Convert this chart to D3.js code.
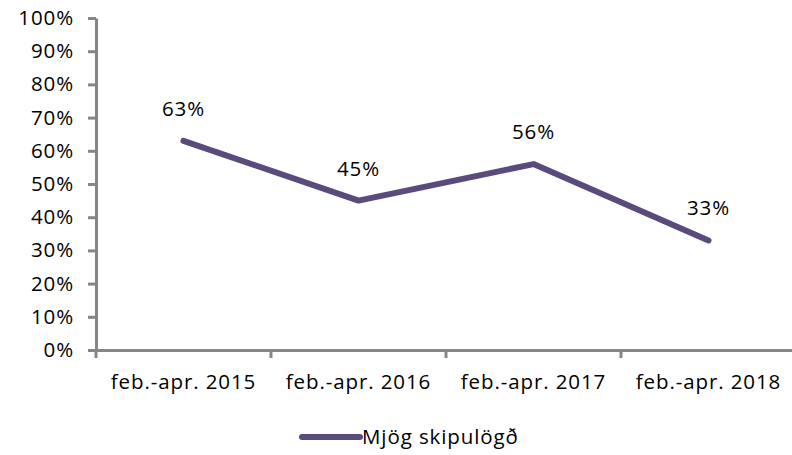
<!DOCTYPE html>
<html>
<head>
<meta charset="utf-8">
<script src="https://cdn.jsdelivr.net/npm/d3@7"></script>
<style>
  body { margin: 0; background: #fff; }
  svg { display: block; font-family: "Open Sans", sans-serif; }
  text { letter-spacing: 0.9px; }
</style>
</head>
<body>
<div id="chart"></div>
<script>
const periods = ["feb.-apr. 2015", "feb.-apr. 2016", "feb.-apr. 2017", "feb.-apr. 2018"];
const values = [0.63, 0.45, 0.56, 0.33];
const seriesName = "Mjög skipulögð";
const yTicks = [0, 0.1, 0.2, 0.3, 0.4, 0.5, 0.6, 0.7, 0.8, 0.9, 1];

const width = 792, height = 455;
const margin = {top: 18, right: -4, bottom: 105, left: 96};
const lineColor = "#5b4a7c";
const axisColor = "#868686";
const fontSize = 20.5;

const svg = d3.select("#chart").append("svg")
    .attr("width", width)
    .attr("height", height)
    .attr("font-size", fontSize);

const x = d3.scaleBand()
    .domain(periods)
    .range([margin.left, width - margin.right]);

const y = d3.scaleLinear()
    .domain([0, 1])
    .range([height - margin.bottom, margin.top]);

// y axis
const yAxis = svg.append("g")
    .attr("transform", `translate(${margin.left},0)`)
    .call(d3.axisLeft(y).tickValues(yTicks).tickFormat(d3.format(".0%")).tickSize(8).tickSizeOuter(0).tickPadding(14));
yAxis.select(".domain").attr("stroke", axisColor).attr("stroke-width", 3);
yAxis.selectAll(".tick line").attr("stroke", axisColor).attr("stroke-width", 3);
yAxis.selectAll(".tick text").attr("fill", "#000").attr("font-size", fontSize).attr("font-family", "Open Sans");

// x axis
const xAxis = svg.append("g")
    .attr("transform", `translate(0,${y(0)})`)
    .call(d3.axisBottom(x).tickSize(0).tickPadding(24));
xAxis.select(".domain").attr("stroke", axisColor).attr("stroke-width", 3);
xAxis.selectAll(".tick text").attr("fill", "#000").attr("font-size", fontSize).attr("font-family", "Open Sans");

// x ticks between categories
svg.append("g")
  .selectAll("line")
  .data(periods)
  .join("line")
    .attr("x1", d => x(d))
    .attr("x2", d => x(d))
    .attr("y1", y(0))
    .attr("y2", y(0) + 8)
    .attr("stroke", axisColor)
    .attr("stroke-width", 3);

const line = d3.line()
    .x((d, i) => x(periods[i]) + x.bandwidth() / 2)
    .y(d => y(d));

svg.append("path")
    .datum(values)
    .attr("fill", "none")
    .attr("stroke", lineColor)
    .attr("stroke-width", 6)
    .attr("stroke-linecap", "round")
    .attr("stroke-linejoin", "round")
    .attr("d", line);

svg.append("g")
  .selectAll("text")
  .data(values)
  .join("text")
    .attr("text-anchor", "middle")
    .attr("x", (d, i) => x(periods[i]) + x.bandwidth() / 2)
    .attr("y", d => y(d) - 25)
    .text(d => d3.format(".0%")(d));

// legend
const legend = svg.append("g").attr("transform", "translate(300,437)");
legend.append("line")
    .attr("x1", 2).attr("x2", 60)
    .attr("stroke", lineColor)
    .attr("stroke-width", 6)
    .attr("stroke-linecap", "round");
legend.append("text")
    .attr("x", 62)
    .attr("dy", "0.35em")
    .text(seriesName);
</script>
</body>
</html>
